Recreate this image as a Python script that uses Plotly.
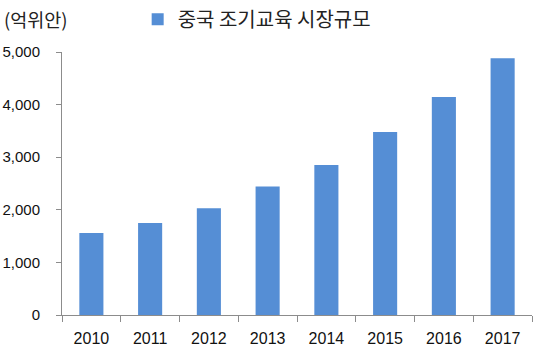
import plotly.graph_objects as go

years = ["2010", "2011", "2012", "2013", "2014", "2015", "2016", "2017"]
market_size = [1560, 1750, 2030, 2445, 2850, 3480, 4145, 4880]
series_name = "중국 조기교육 시장규모"
unit_label = "(억위안)"
y_tickvals = [0, 1000, 2000, 3000, 4000, 5000]
y_ticktext = ["0", "1,000", "2,000", "3,000", "4,000", "5,000"]

num_font = "Liberation Sans, Arial, sans-serif"
kr_font = "Noto Sans CJK KR, sans-serif"

fig = go.Figure()
fig.add_trace(go.Bar(
    x=years, y=market_size, name=series_name,
    marker=dict(color="#558ED5", line=dict(width=0)),
    showlegend=True,
))

fig.update_layout(
    width=540, height=361,
    margin=dict(l=62, r=8, t=52, b=46, autoexpand=False),
    paper_bgcolor="white", plot_bgcolor="white",
    bargap=0.59,
    showlegend=True,
    legend=dict(
        orientation="h", x=0.161, xanchor="left", y=1.125, yanchor="middle",
        font=dict(family=kr_font, size=20, color="#222"),
        itemwidth=30, bgcolor="rgba(0,0,0,0)",
    ),
    xaxis=dict(
        automargin=False,
        showline=True, linecolor="#8c8c8c", linewidth=1,
        ticks="outside", ticklen=6, tickcolor="#8c8c8c", tickson="boundaries",
        tickfont=dict(family=num_font, size=16, color="#111"),
        showgrid=False,
        ticklabelstandoff=9,
    ),
    yaxis=dict(
        automargin=False,
        range=[0, 5000], tickvals=y_tickvals, ticktext=y_ticktext,
        showline=True, linecolor="#8c8c8c", linewidth=1,
        ticks="outside", ticklen=5, tickcolor="#8c8c8c",
        tickfont=dict(family=num_font, size=15, color="#111"),
        showgrid=False, zeroline=False,
        ticklabelstandoff=13,
    ),
    annotations=[dict(
        text=unit_label, xref="paper", yref="paper",
        x=-0.127, xanchor="left", y=1.125, yanchor="middle",
        showarrow=False, font=dict(family=kr_font, size=18.5, color="#222"),
    )],
)

fig.write_html(
    "out.html",
    config={"displayModeBar": False},
    post_script="document.body.style.margin='0';document.body.style.overflow='hidden';",
)
